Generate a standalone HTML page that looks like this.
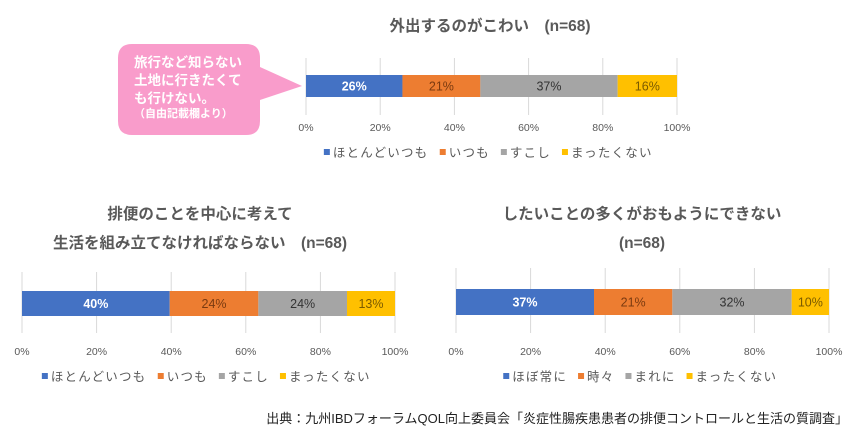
<!DOCTYPE html>
<html><head><meta charset="utf-8">
<style>
body{margin:0;background:#fff;width:855px;height:441px;overflow:hidden;font-family:"Liberation Sans","Noto Sans CJK JP",sans-serif;}
svg{display:block}
</style></head>
<body>
<svg id="s" width="855" height="441" xmlns="http://www.w3.org/2000/svg" font-family="Liberation Sans, Noto Sans CJK JP, sans-serif">
  <g>
    <path d="M132,44 H246 Q260,44 260,58 V67 L302,86 L260,100 V121 Q260,135 246,135 H132 Q118,135 118,121 V58 Q118,44 132,44 Z" fill="#f99ccb"/>
    <text x="134" y="67" font-size="13.5" fill="#fff" font-weight="bold">旅行など知らない</text>
    <text x="134" y="85" font-size="13.5" fill="#fff" font-weight="bold">土地に行きたくて</text>
    <text x="134" y="103" font-size="13.5" fill="#fff" font-weight="bold">も行けない。</text>
    <text x="134" y="117" font-size="11" fill="#fff" font-weight="bold">（自由記載欄より）</text>
  </g>
  <text x="848" y="423" font-size="13" fill="#222" text-anchor="end">出典：九州IBDフォーラムQOL向上委員会「炎症性腸疾患患者の排便コントロールと生活の質調査」</text>
</svg>
<script>
const colors=["#4472c4","#ed7d31","#a5a5a5","#ffc000"];
const labelColors=["#fff","#7a3a10","#333","#7a5a00"];
const ticks=["0%","20%","40%","60%","80%","100%"];
const chart1Values=[26,21,37,16];
const chart1Legend=["ほとんどいつも","いつも","すこし","まったくない"];
const chart2Values=[40,24,24,13];
const chart2Legend=["ほとんどいつも","いつも","すこし","まったくない"];
const chart3Values=[37,21,32,10];
const chart3Legend=["ほぼ常に","時々","まれに","まったくない"];

const svg=document.getElementById('s');
const NS="http://www.w3.org/2000/svg";
function mk(tag,attrs,parent){const e=document.createElementNS(NS,tag);for(const k in attrs)e.setAttribute(k,attrs[k]);parent.appendChild(e);return e;}

function chart(cfg){
  const g=mk('g',{},svg);
  
  
  const xs=v=>cfg.x0+(cfg.x1-cfg.x0)*v/100;
  cfg.titles.forEach((t,i)=>{
    const tt=mk('text',{x:cfg.tx,y:cfg.ty+i*29,'font-size':15.5,'font-weight':'bold',fill:'#595959','text-anchor':'middle'},g);
    tt.textContent=t;
    
    
  });
  ticks.forEach((t,i)=>{
    const x=xs(i*20);
    const l=mk('line',{x1:x,x2:x,y1:cfg.gy0,y2:cfg.gy1,stroke:'#d9d9d9','stroke-width':1},g);
    
    
    const tx=mk('text',{x:x,y:cfg.ticky,'font-size':10.5,fill:'#595959','text-anchor':'middle'},g);
    tx.textContent=t;
    
    
  });
  const total=cfg.values.reduce((a,b)=>a+b,0);
  let cum=0;
  cfg.values.forEach((v,i)=>{
    const a=xs(cum/total*100), b=xs((cum+v)/total*100);
    cum+=v;
    const r=mk('rect',{x:a,y:cfg.by,width:b-a,height:cfg.bh,fill:colors[i]},g);
    
    
    const t=mk('text',{x:(a+b)/2,y:cfg.by+cfg.bh/2+4.5,'font-size':12.5,'font-weight':i==0?'bold':'normal',fill:labelColors[i],'text-anchor':'middle'},g);
    t.textContent=v+'%';
    
    
  });
  const fs=12.5, ls=1.2;
  const widths=cfg.legend.map(s=>s.length*(fs+ls)+12);
  const gap=8;
  const totalW=widths.reduce((a,b)=>a+b,0)+gap*(widths.length-1);
  let lx=cfg.lx-totalW/2;
  cfg.legend.forEach((s,i)=>{
    const sq=mk('rect',{x:lx,y:cfg.ly-8,width:6,height:6,fill:colors[i]},g);
    
    
    const t=mk('text',{x:lx+9,y:cfg.ly,'font-size':fs,fill:'#595959','letter-spacing':ls},g);
    t.textContent=s;
    
    
    lx+=widths[i]+gap;
  });
}
chart({name:'chart-going-out',titles:['外出するのがこわい　(n=68)'],tx:490,ty:31,x0:306,x1:677,gy0:58,gy1:115,by:75,bh:22,ticky:131,values:chart1Values,legend:chart1Legend,lx:490,ly:157});
chart({name:'chart-bowel-planning',titles:['排便のことを中心に考えて','生活を組み立てなければならない　(n=68)'],tx:200,ty:219,x0:22,x1:395,gy0:272,gy1:333,by:291,bh:25,ticky:355,values:chart2Values,legend:chart2Legend,lx:208,ly:381});
chart({name:'chart-cannot-do',titles:['したいことの多くがおもようにできない','(n=68)'],tx:642,ty:219,x0:456,x1:829,gy0:268,gy1:333,by:289,bh:26,ticky:355,values:chart3Values,legend:chart3Legend,lx:642,ly:381});
</script>
</body></html>
